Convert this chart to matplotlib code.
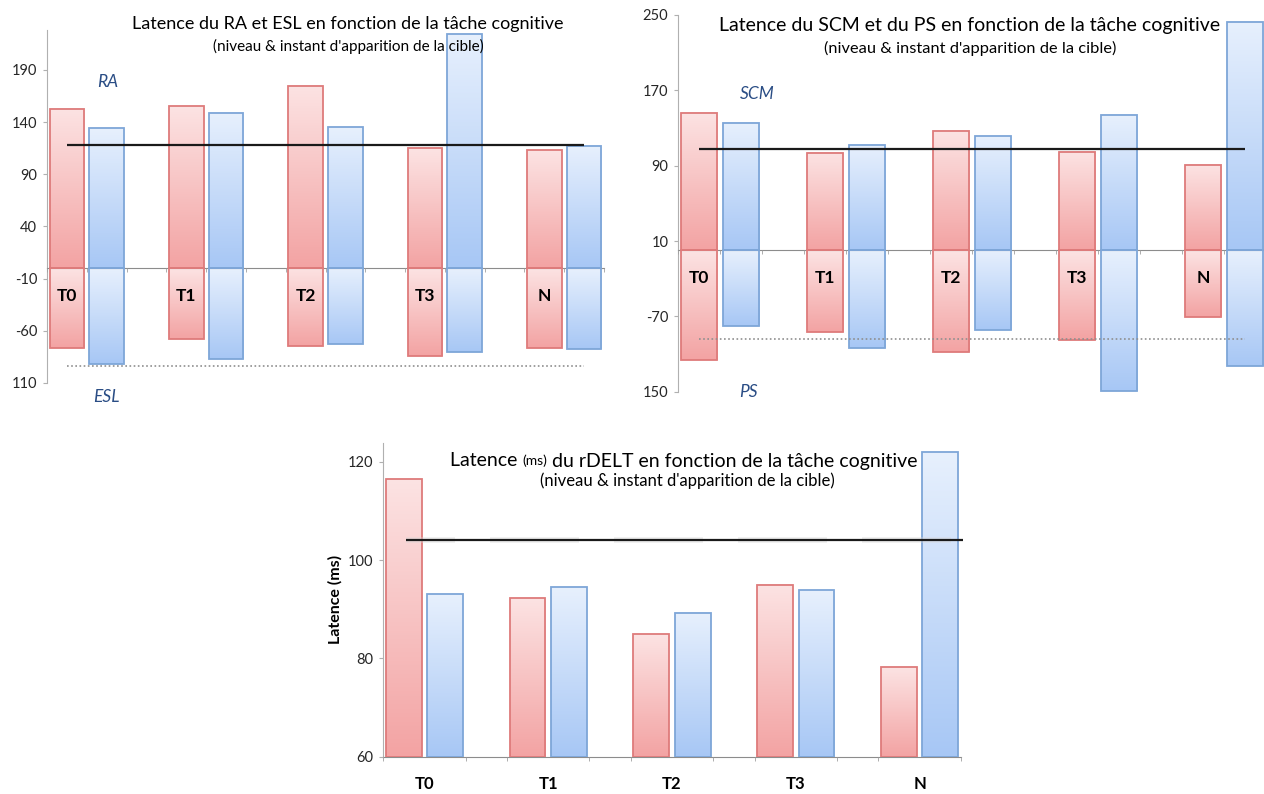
import numpy as np
import matplotlib.pyplot as plt
from matplotlib.colors import LinearSegmentedColormap
from matplotlib.text import Annotation

plt.rcParams['font.family'] = ['Lato', 'DejaVu Sans']

taches = ['T0', 'T1', 'T2', 'T3', 'N']

# RA (en haut) et ESL (en bas)
ra_rouge = [153, 155, 175, 115, 113]
ra_bleu = [134, 149, 135, 224, 117]
esl_rouge = [-76, -68, -75, -84, -76]
esl_bleu = [-92, -87, -73, -80, -77]
ra_moy = 118
esl_moy = -94

# SCM (en haut) et PS (en bas)
scm_rouge = [146, 103, 127, 105, 91]
scm_bleu = [135, 112, 121, 144, 243]
ps_rouge = [-116, -87, -108, -95, -71]
ps_bleu = [-80, -104, -85, -149, -123]
scm_moy = 107.5
ps_moy = -94.5

# rDELT
rdelt_rouge = [116.4, 92.3, 84.9, 95.0, 78.2]
rdelt_bleu = [93.0, 94.5, 89.3, 93.9, 121.9]
rdelt_moy = 104

ROUGE = ('#fce3e3', '#f3a3a3', '#de7b7b')
BLEU = ('#e7f0fd', '#a7c7f5', '#7ea6d8')
LARG = 0.87

x = np.arange(len(taches)) * 3
x_rouge = x + 0.5
x_bleu = x + 1.5


def barres(ax, xs, vals, couleurs, bas=0):
    clair, fonce, bord = couleurs
    b = ax.bar(xs, np.array(vals) - bas, bottom=bas, width=LARG,
               facecolor='none', edgecolor=bord, linewidth=1.3, zorder=3)
    cmap = LinearSegmentedColormap.from_list('', [fonce, clair])
    grad = np.linspace(0, 1, 128).reshape(-1, 1)
    for p in b:
        x0, y0 = p.get_x(), p.get_y()
        y1 = y0 + p.get_height()
        ax.imshow(grad, cmap=cmap, origin='lower', aspect='auto', zorder=2,
                  extent=(x0, x0 + p.get_width(), min(y0, y1), max(y0, y1)))


def style(ax, yticks, ylabels, ylim, zero):
    ax.set_xlim(0, 14)
    ax.set_ylim(*ylim)
    ax.set_axisbelow(False)
    for s in ['top', 'right']:
        ax.spines[s].set_visible(False)
    ax.spines['left'].set_color('#b0b0b0')
    ax.spines['bottom'].set_color('#8c8c8c')
    ax.spines['bottom'].set_position(('data', zero))
    ax.set_yticks(yticks)
    ax.set_yticklabels(ylabels)
    ax.tick_params(axis='y', length=3, color='#b0b0b0', labelsize=10.5,
                   labelcolor='#262626', pad=4)
    ax.set_xticks(np.arange(15), minor=True)
    ax.tick_params(axis='x', which='minor', length=3, color='#a0a0a0')
    ax.set_facecolor('none')


fig = plt.figure(figsize=(12.64, 7.94), dpi=100)

# --- RA / ESL ---
ax1 = fig.add_axes([47 / 1264, 1 - 383 / 794, 557 / 1264, 353 / 794])
barres(ax1, x_rouge, ra_rouge, ROUGE)
barres(ax1, x_bleu, ra_bleu, BLEU)
barres(ax1, x_rouge, esl_rouge, ROUGE)
barres(ax1, x_bleu, esl_bleu, BLEU)
ax1.hlines(ra_moy, 0.5, 13.5, color='#1a1a1a', lw=1.6, zorder=4)
ax1.hlines(esl_moy, 0.5, 13.5, color='#8f8f8f', lw=1.2, ls=(0, (1, 1.5)), zorder=4)
style(ax1, [190, 140, 90, 40, -10, -60, -110],
      ['190', '140', '90', '40', '-10', '-60', '110'], (-110, 228.3), 0)
ax1.set_xticks(x_rouge)
ax1.set_xticklabels(taches, fontsize=12.5, fontweight='bold')
ax1.tick_params(axis='x', which='major', length=0, pad=14)

# --- SCM / PS ---
ax2 = fig.add_axes([678 / 1264, 1 - 391.7 / 794, 588 / 1264, 376.7 / 794])
barres(ax2, x_rouge, scm_rouge, ROUGE)
barres(ax2, x_bleu, scm_bleu, BLEU)
barres(ax2, x_rouge, ps_rouge, ROUGE)
barres(ax2, x_bleu, ps_bleu, BLEU)
ax2.hlines(scm_moy, 0.5, 13.5, color='#1a1a1a', lw=1.6, zorder=4)
ax2.hlines(ps_moy, 0.5, 13.5, color='#8f8f8f', lw=1.2, ls=(0, (1, 1.5)), zorder=4)
style(ax2, [250, 170, 90, 10, -70, -150],
      ['250', '170', '90', '10', '-70', '150'], (-150, 250), 0)
ax2.set_xticks(x_rouge)
ax2.set_xticklabels(taches, fontsize=12.5, fontweight='bold')
ax2.tick_params(axis='x', which='major', length=0, pad=14)

# --- rDELT ---
ax3 = fig.add_axes([383 / 1264, 1 - 756.7 / 794, 578 / 1264, 313.7 / 794])
barres(ax3, x_rouge, rdelt_rouge, ROUGE, bas=60)
barres(ax3, x_bleu, rdelt_bleu, BLEU, bas=60)
for xi in x:
    ax3.hlines(rdelt_moy, max(xi - 0.4, 0.55), xi + 1.75, color='#d8d8d8', lw=4,
               alpha=0.45, zorder=4)
ax3.hlines(rdelt_moy, 0.55, 14.05, color='#1a1a1a', lw=1.6, zorder=5, clip_on=False)
style(ax3, [60, 80, 100, 120], ['60', '80', '100', '120'], (60, 123.8), 60)
ax3.set_xticks(x + 1)
ax3.set_xticklabels(taches, fontsize=12, fontweight='bold')
ax3.tick_params(axis='x', which='major', length=0, pad=14)
ax3.set_ylabel('Latence (ms)', fontsize=11.5, fontweight='bold', labelpad=4)


# --- titres ---
def px(xp, yp):
    return xp / 1264, 1 - yp / 794


fig.text(*px(348, 24), 'Latence du RA et ESL en fonction de la tâche cognitive',
         ha='center', va='center', fontsize=13)
fig.text(*px(348, 46), "(niveau & instant d'apparition de la cible)",
         ha='center', va='center', fontsize=11)
fig.text(*px(970, 26), 'Latence du SCM et du PS en fonction de la tâche cognitive',
         ha='center', va='center', fontsize=14)
fig.text(*px(970, 48), "(niveau & instant d'apparition de la cible)",
         ha='center', va='center', fontsize=11.8)

t1 = fig.text(*px(450, 461), 'Latence ', ha='left', va='center', fontsize=14)
t2 = fig.add_artist(Annotation('(ms)', xy=(1, 0), xycoords=t1, va='bottom',
                               xytext=(0, 1.5), textcoords='offset points',
                               fontsize=10))
fig.add_artist(Annotation(' du rDELT en fonction de la tâche cognitive',
                          xy=(1, 0), xycoords=t2, va='bottom',
                          xytext=(0, -1.5), textcoords='offset points',
                          fontsize=14))
fig.text(*px(687, 481), "(niveau & instant d'apparition de la cible)",
         ha='center', va='center', fontsize=12)

bleu_txt = '#2a4d85'
fig.text(*px(108, 82), 'RA', ha='center', va='center', fontsize=12.5, style='italic', color=bleu_txt)
fig.text(*px(106, 397), 'ESL', ha='center', va='center', fontsize=12.5, style='italic', color=bleu_txt)
fig.text(*px(757, 94), 'SCM', ha='center', va='center', fontsize=12.5, style='italic', color=bleu_txt)
fig.text(*px(748, 392), 'PS', ha='center', va='center', fontsize=12.5, style='italic', color=bleu_txt)

fig.savefig('out.png', dpi=100)
